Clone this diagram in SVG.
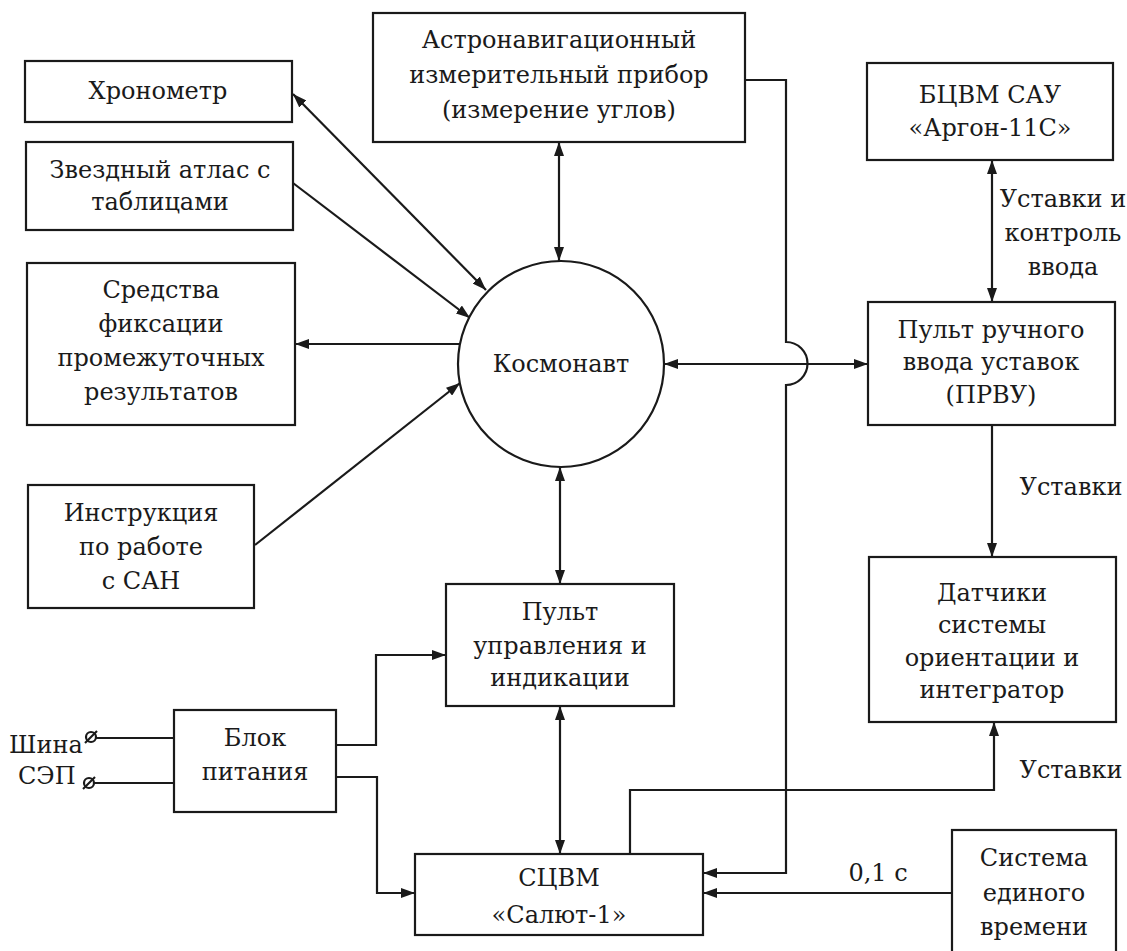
<svg xmlns="http://www.w3.org/2000/svg" width="1127" height="951" viewBox="0 0 1127 951">
<style>
.box{fill:#fff;stroke:#1a1a1a;stroke-width:2.2}
.ln{fill:none;stroke:#1a1a1a;stroke-width:2.2}
.t{font-family:"DejaVu Serif","Liberation Serif",serif;font-size:24px;fill:#1a1a1a;text-anchor:middle}
.tl{font-family:"DejaVu Serif","Liberation Serif",serif;font-size:24px;fill:#1a1a1a;text-anchor:start}
</style>
<defs>
<marker id="ah" viewBox="0 0 14 10" refX="14" refY="5" markerWidth="14" markerHeight="10" orient="auto-start-reverse" markerUnits="userSpaceOnUse">
<path d="M0,0 L14,5 L0,10 z" fill="#1a1a1a"/>
</marker>
</defs>
<rect width="1127" height="951" fill="#fff"/>

<g id="connectors">
<line class="ln" x1="293" y1="94" x2="486" y2="290" marker-start="url(#ah)" marker-end="url(#ah)"/>
<line class="ln" x1="293" y1="183" x2="470" y2="318" marker-end="url(#ah)"/>
<line class="ln" x1="460" y1="344" x2="295" y2="344" marker-end="url(#ah)"/>
<line class="ln" x1="255" y1="545" x2="460" y2="383" marker-end="url(#ah)"/>
<line class="ln" x1="559" y1="142" x2="559" y2="261" marker-start="url(#ah)" marker-end="url(#ah)"/>
<line class="ln" x1="664" y1="364" x2="868" y2="364" marker-start="url(#ah)" marker-end="url(#ah)"/>
<path class="ln" d="M745,80 H786 V342 A21.5,21.5 0 0 1 786,385 V873 H703" marker-end="url(#ah)"/>
<line class="ln" x1="992" y1="160" x2="992" y2="302" marker-start="url(#ah)" marker-end="url(#ah)"/>
<line class="ln" x1="992" y1="425" x2="992" y2="557" marker-end="url(#ah)"/>
<path class="ln" d="M630,854 V790 H994 V722" marker-end="url(#ah)"/>
<line class="ln" x1="952" y1="893" x2="703" y2="893" marker-end="url(#ah)"/>
<line class="ln" x1="560" y1="467" x2="560" y2="584" marker-start="url(#ah)" marker-end="url(#ah)"/>
<line class="ln" x1="560" y1="706" x2="560" y2="854" marker-start="url(#ah)" marker-end="url(#ah)"/>
<path class="ln" d="M336,745 H376 V655 H446" marker-end="url(#ah)"/>
<path class="ln" d="M336,777 H377 V893 H415" marker-end="url(#ah)"/>
<line class="ln" x1="96" y1="738" x2="174" y2="738"/>
<line class="ln" x1="94" y1="783" x2="174" y2="783"/>
<circle cx="91" cy="737" r="5" class="ln"/>
<line class="ln" x1="85" y1="743" x2="97" y2="731"/>
<circle cx="89" cy="783" r="5" class="ln"/>
<line class="ln" x1="83" y1="789" x2="95" y2="777"/>
<text class="t" x="1063" y="207">Уставки и</text>
<text class="t" x="1063" y="241">контроль</text>
<text class="t" x="1063" y="275">ввода</text>
<text class="t" x="1071" y="495">Уставки</text>
<text class="t" x="1071" y="778">Уставки</text>
<text class="t" x="878" y="881">0,1 с</text>
<text class="tl" x="9" y="753">Шина</text>
<text class="tl" x="18" y="784">СЭП</text>
</g>

<g id="chronometer">
<rect class="box" x="25" y="61" width="267" height="61"/>
<text class="t" x="158" y="99">Хронометр</text>
</g>
<g id="atlas">
<rect class="box" x="26" y="142" width="267" height="88"/>
<text class="t" x="160" y="178">Звездный атлас с</text>
<text class="t" x="160" y="210">таблицами</text>
</g>
<g id="fixation">
<rect class="box" x="27" y="263" width="268" height="162"/>
<text class="t" x="161" y="298">Средства</text>
<text class="t" x="161" y="332">фиксации</text>
<text class="t" x="161" y="366">промежуточных</text>
<text class="t" x="161" y="400">результатов</text>
</g>
<g id="instruction">
<rect class="box" x="28" y="485" width="226" height="123"/>
<text class="t" x="141" y="521">Инструкция</text>
<text class="t" x="141" y="555">по работе</text>
<text class="t" x="141" y="589">с САН</text>
</g>
<g id="astro">
<rect class="box" x="373" y="13" width="372" height="129"/>
<text class="t" x="559" y="48">Астронавигационный</text>
<text class="t" x="559" y="83">измерительный прибор</text>
<text class="t" x="559" y="118">(измерение углов)</text>
</g>
<g id="cosmonaut">
<circle class="box" cx="561" cy="364" r="103"/>
<text class="t" x="561" y="372">Космонавт</text>
</g>
<g id="argon">
<rect class="box" x="867" y="63" width="246" height="97"/>
<text class="t" x="990" y="103">БЦВМ САУ</text>
<text class="t" x="990" y="136">«Аргон-11С»</text>
</g>
<g id="prvu">
<rect class="box" x="868" y="302" width="247" height="123"/>
<text class="t" x="991" y="338">Пульт ручного</text>
<text class="t" x="991" y="370">ввода уставок</text>
<text class="t" x="991" y="403">(ПРВУ)</text>
</g>
<g id="sensors">
<rect class="box" x="869" y="557" width="247" height="165"/>
<text class="t" x="992" y="601">Датчики</text>
<text class="t" x="992" y="633">системы</text>
<text class="t" x="992" y="666">ориентации и</text>
<text class="t" x="992" y="698">интегратор</text>
</g>
<g id="control-panel">
<rect class="box" x="446" y="584" width="228" height="122"/>
<text class="t" x="560" y="620">Пульт</text>
<text class="t" x="560" y="654">управления и</text>
<text class="t" x="560" y="686">индикации</text>
</g>
<g id="power">
<rect class="box" x="174" y="710" width="162" height="102"/>
<text class="t" x="255" y="746">Блок</text>
<text class="t" x="255" y="780">питания</text>
</g>
<g id="salyut">
<rect class="box" x="415" y="854" width="288" height="81"/>
<text class="t" x="559" y="886">СЦВМ</text>
<text class="t" x="559" y="923">«Салют-1»</text>
</g>
<g id="time-system">
<rect class="box" x="952" y="830" width="164" height="140"/>
<text class="t" x="1034" y="866">Система</text>
<text class="t" x="1034" y="901">единого</text>
<text class="t" x="1034" y="935">времени</text>
</g>
</svg>
